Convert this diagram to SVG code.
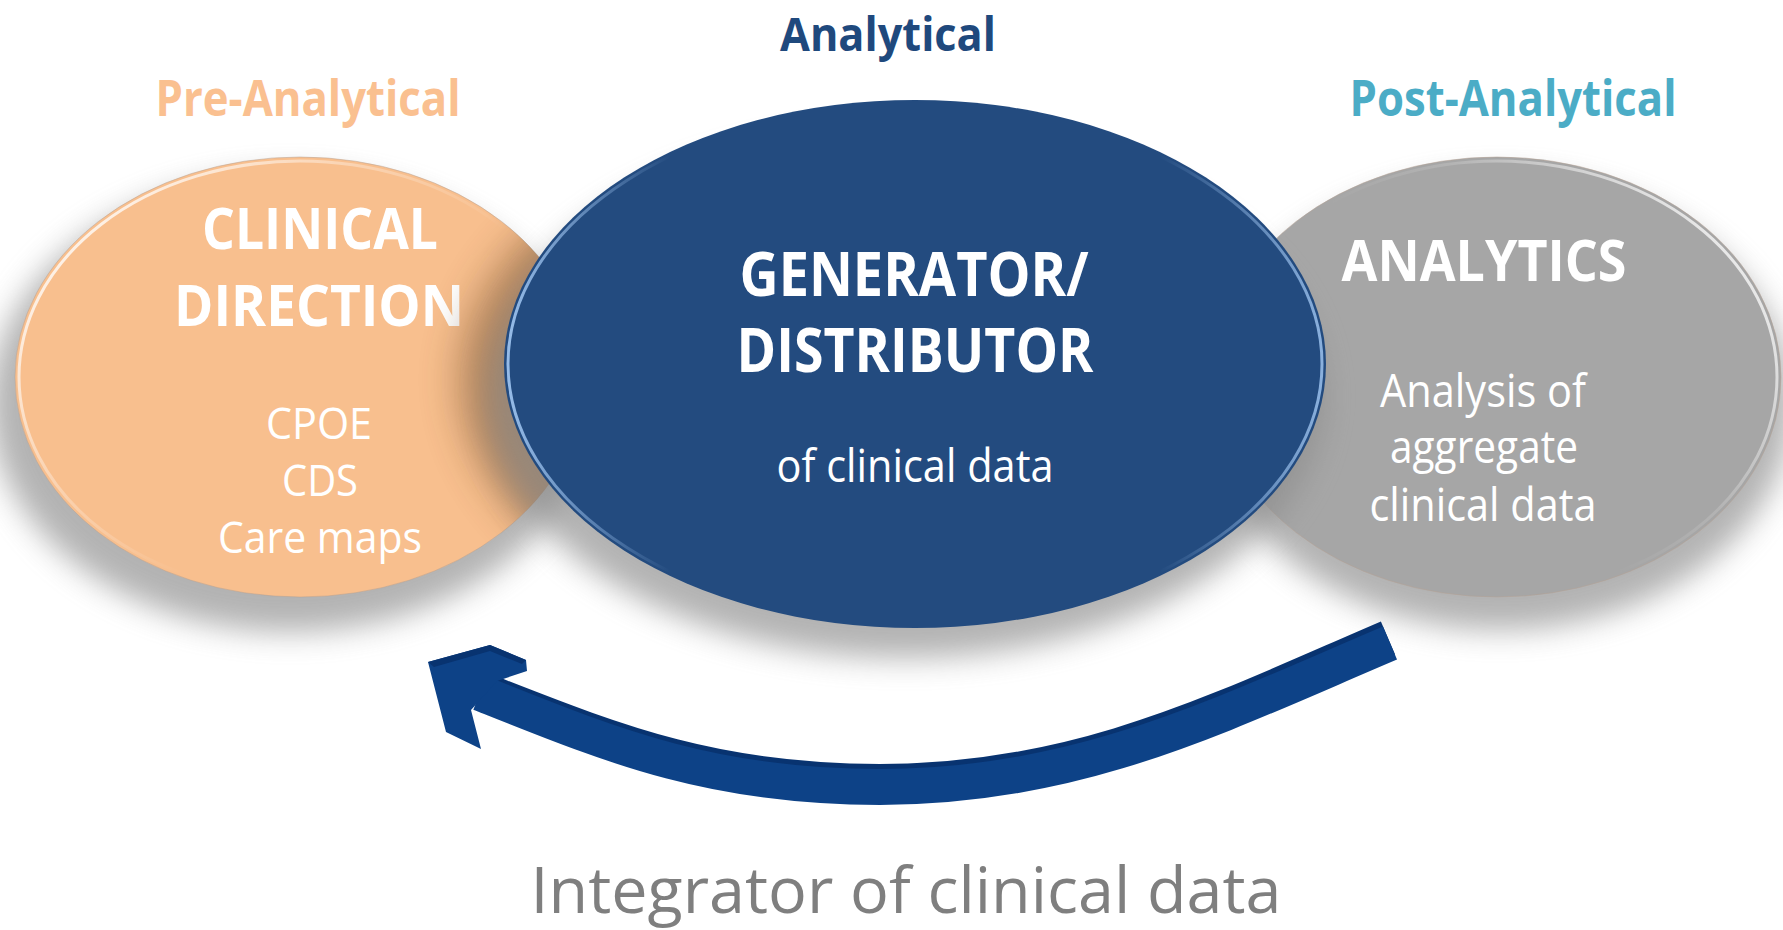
<svg xmlns="http://www.w3.org/2000/svg" width="1783" height="930" viewBox="0 0 1783 930">
  <defs>
    <filter id="blur-soft" x="-30%" y="-30%" width="160%" height="160%">
      <feGaussianBlur stdDeviation="15"/>
    </filter>
    <filter id="blur-cast" x="-30%" y="-30%" width="160%" height="160%">
      <feGaussianBlur stdDeviation="20"/>
    </filter>
    <linearGradient id="rim-left" x1="0" y1="0.2" x2="0.55" y2="0.6">
      <stop offset="0" stop-color="#ffffff" stop-opacity="0.9"/>
      <stop offset="0.5" stop-color="#ffffff" stop-opacity="0.35"/>
      <stop offset="1" stop-color="#ffffff" stop-opacity="0"/>
    </linearGradient>
    <linearGradient id="rim-right" x1="1" y1="0.3" x2="0.5" y2="0.6">
      <stop offset="0" stop-color="#ffffff" stop-opacity="0.8"/>
      <stop offset="0.6" stop-color="#ffffff" stop-opacity="0.15"/>
      <stop offset="1" stop-color="#ffffff" stop-opacity="0"/>
    </linearGradient>
    <linearGradient id="rim-blue" x1="0" y1="0" x2="1" y2="0">
      <stop offset="0" stop-color="#9cc2ee" stop-opacity="0.95"/>
      <stop offset="0.2" stop-color="#9cc2ee" stop-opacity="0"/>
      <stop offset="0.8" stop-color="#9cc2ee" stop-opacity="0"/>
      <stop offset="1" stop-color="#9cc2ee" stop-opacity="0.85"/>
    </linearGradient>
    <clipPath id="clip-orange">
      <ellipse cx="300" cy="377" rx="285" ry="220"/>
    </clipPath>
    <style>
      .hd { font-family: "Open Sans", "Liberation Sans", sans-serif; font-weight: 700; }
      .bd { font-family: "Open Sans", "Liberation Sans", sans-serif; font-weight: 400; }
      .w { fill: #ffffff; }
      .shadow { fill: #8a8a8a; opacity: 0.65; filter: url(#blur-soft); }
      .edge { fill: none; stroke: #b5a294; stroke-opacity: 0.5; stroke-width: 1; }
      .shaft { fill: none; stroke: #0d4287; stroke-width: 36; }
      .shaft-top { fill: none; stroke: #083370; stroke-width: 36; }
    </style>
  </defs>

  <rect width="1783" height="930" fill="#ffffff"/>

  <!-- phase titles -->
  <text class="hd" x="308" y="116" font-size="50" fill="#fac090" text-anchor="middle" textLength="305" lengthAdjust="spacingAndGlyphs">Pre-Analytical</text>
  <text class="hd" x="888" y="51" font-size="47" fill="#1f497d" text-anchor="middle" textLength="216" lengthAdjust="spacingAndGlyphs">Analytical</text>
  <text class="hd" x="1513" y="116" font-size="50" fill="#4bacc6" text-anchor="middle" textLength="327" lengthAdjust="spacingAndGlyphs">Post-Analytical</text>

  <!-- soft drop shadows under the side discs -->
  <ellipse class="shadow" cx="290" cy="404" rx="300" ry="228"/>
  <ellipse class="shadow" cx="1500" cy="404" rx="292" ry="226"/>

  <!-- pre-analytical disc -->
  <g id="clinical-direction">
    <ellipse cx="300" cy="377" rx="285" ry="220" fill="#f8bf8e"/>
    <ellipse class="edge" cx="300" cy="377" rx="285" ry="220"/>
    <ellipse cx="300" cy="377" rx="281" ry="216" fill="none" stroke="url(#rim-left)" stroke-width="3"/>
    <text class="hd w" x="320" y="249" font-size="58" text-anchor="middle" textLength="236" lengthAdjust="spacingAndGlyphs">CLINICAL</text>
    <text class="hd w" x="319" y="326" font-size="58" text-anchor="middle" textLength="290" lengthAdjust="spacingAndGlyphs">DIRECTION</text>
    <text class="bd w" x="319" y="439" font-size="44" text-anchor="middle" textLength="106" lengthAdjust="spacingAndGlyphs">CPOE</text>
    <text class="bd w" x="320" y="496" font-size="44" text-anchor="middle" textLength="76" lengthAdjust="spacingAndGlyphs">CDS</text>
    <text class="bd w" x="320" y="553" font-size="44" text-anchor="middle" textLength="204" lengthAdjust="spacingAndGlyphs">Care maps</text>
  </g>

  <!-- post-analytical disc -->
  <g id="analytics">
    <ellipse cx="1497" cy="377" rx="284" ry="220" fill="#a6a6a6"/>
    <ellipse class="edge" cx="1497" cy="377" rx="284" ry="220"/>
    <ellipse cx="1497" cy="377" rx="280" ry="216" fill="none" stroke="url(#rim-right)" stroke-width="3"/>
    <text class="hd w" x="1484" y="281" font-size="58" text-anchor="middle" textLength="285" lengthAdjust="spacingAndGlyphs">ANALYTICS</text>
    <text class="bd w" x="1483" y="407" font-size="45" text-anchor="middle" textLength="206" lengthAdjust="spacingAndGlyphs">Analysis of</text>
    <text class="bd w" x="1484" y="463" font-size="45" text-anchor="middle" textLength="188" lengthAdjust="spacingAndGlyphs">aggregate</text>
    <text class="bd w" x="1483" y="521" font-size="45" text-anchor="middle" textLength="227" lengthAdjust="spacingAndGlyphs">clinical data</text>
  </g>

  <!-- shadow cast by the central disc onto its neighbours -->
  <g clip-path="url(#clip-orange)">
    <ellipse cx="880" cy="380" rx="420" ry="262" fill="#5a3a1e" opacity="0.45" filter="url(#blur-cast)"/>
  </g>
  <ellipse class="shadow" cx="905" cy="396" rx="418" ry="262"/>

  <!-- analytical disc -->
  <g id="generator-distributor">
    <ellipse cx="915" cy="364" rx="411" ry="264" fill="#234b7f"/>
    <ellipse cx="915" cy="364" rx="407" ry="260" fill="none" stroke="url(#rim-blue)" stroke-width="3"/>
    <text class="hd w" x="914" y="296" font-size="61" text-anchor="middle" textLength="349" lengthAdjust="spacingAndGlyphs">GENERATOR/</text>
    <text class="hd w" x="915" y="372" font-size="61" text-anchor="middle" textLength="357" lengthAdjust="spacingAndGlyphs">DISTRIBUTOR</text>
    <text class="bd w" x="915" y="482" font-size="45" text-anchor="middle" textLength="277" lengthAdjust="spacingAndGlyphs">of clinical data</text>
  </g>

  <!-- feedback arrow from analytics back to clinical direction -->
  <g id="connectors">
    <path class="shaft-top" d="M 1388 638 C 1220 710, 1080 782, 880 782 C 710 782, 610 740, 482 690"/>
    <path class="shaft" d="M 1390 643 C 1220 715, 1080 787, 880 787 C 710 787, 610 745, 480 693"/>
    <polygon points="497,681 527,671 526,660 490,645 428,662 446,732 481,749 471,710" fill="#0d4287"/>
    <polygon points="428,662 490,645 526,660 522,664 490,651 434,667" fill="#083370"/>
  </g>

  <!-- caption -->
  <text class="bd" x="906" y="913" font-size="64" fill="#7f7f7f" text-anchor="middle" textLength="751" lengthAdjust="spacingAndGlyphs">Integrator of clinical data</text>
</svg>
